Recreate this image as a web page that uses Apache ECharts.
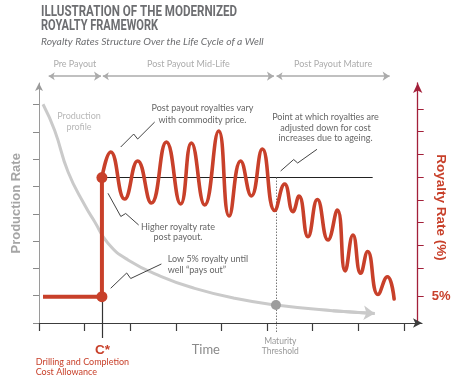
<!DOCTYPE html>
<html><head><meta charset="utf-8">
<script src="https://cdn.jsdelivr.net/npm/echarts@6/dist/echarts.min.js"></script>
<style>html,body{margin:0;padding:0;background:#fff}#c{width:470px;height:381px}</style>
</head><body><div id="c"></div>
<script>
// ---- schematic data (time units, production units, royalty %) ----
const xTicks = [0, 1, 2, 3, 4, 5, 6, 7, 8];
const prodTicks = [0, 1, 2, 3, 4, 5, 6, 7, 8];
const royaltyTicks = [5, 10.4, 14.8, 19.1, 23.4, 27.7, 32.1, 36.4, 40.6];
const royaltyLabels = [5];

const payoutTime = 1.38;      // C*
const maturityTime = 5.197;   // maturity threshold
const lowRoyalty = 5;
const postPayoutRoyalty = 27.66;
const levelLineEnd = 7.318;

const prodTime = [0.088, 0.344, 0.636, 1.002, 1.221, 1.513, 1.952, 2.684, 3.414, 4.292, 5.197, 6.441, 7.362];
const prodRate = [8.01, 7.05, 5.54, 4.32, 3.71, 2.92, 2.31, 1.70, 1.27, 0.905, 0.66, 0.45, 0.35];

const preTime = [0.088, 1.38, 1.38];
const preRoyalty = [5, 5, 27.66];

const waveTime = [1.38, 1.572, 1.879, 2.164, 2.465, 2.794, 3.107, 3.342, 3.634, 3.941, 4.171, 4.423, 4.658, 4.899, 5.169, 5.388, 5.570, 5.702, 5.899, 6.105, 6.338, 6.544, 6.715, 6.886, 7.055, 7.208, 7.434, 7.640, 7.789];
const waveRoyalty = [27.66, 32.51, 23.57, 30.80, 22.81, 34.41, 22.62, 34.22, 22.43, 36.50, 20.34, 30.80, 24.14, 33.08, 21.39, 26.43, 21.16, 24.14, 16.41, 23.48, 15.78, 21.48, 9.89, 16.73, 9.45, 13.59, 5.42, 8.80, 4.56];

const phaseNames = ['Pre Payout', 'Post Payout Mid-Life', 'Post Payout Mature'];
const phaseStart = [0.213, 1.40, 5.21];
const phaseEnd = [1.36, 5.153, 7.69];
const phaseLevel = 9.04;

// annotation arrows (time, royalty %)
const arrowPrice = [[2.537, 38.21], [2.164, 34.98], [2.077, 35.93], [1.792, 33.46]];
const arrowHigher = [[2.186, 18.63], [1.901, 20.82], [1.794, 20.25], [1.513, 24.66]];
const arrowLow = [[2.684, 11.22], [2.011, 8.46], [1.923, 9.51], [1.572, 6.60]];
const arrowAgeing = [[6.096, 33.02], [5.673, 30.42], [5.586, 31.08], [5.30, 28.9]];
const cStarBottom = -2.85;
const maturityBottom = -1.9;

// ---- chart ----
const RED = '#c8402a';
const zip = (a, b) => a.map((v, i) => [v, b[i]]);
const n = prodTime.length;

const chart = echarts.init(document.getElementById('c'), null, {renderer: 'canvas'});
const txt = (o) => ({type: 'text', z: 100, ...o});
const body = 'Lato, "Open Sans", sans-serif';

chart.setOption({
  animation: false,
  backgroundColor: '#fff',
  grid: {left: 39, right: 48, top: 83, bottom: 58, containLabel: false},
  xAxis: {
    type: 'value', min: 0, max: 8.40, interval: 1,
    axisLine: {show: true, onZero: false, symbol: ['none', 'arrow'], symbolSize: [7, 9], lineStyle: {color: '#3c3c3c', width: 1.2}},
    axisTick: {show: true, inside: false, length: 8, customValues: xTicks, lineStyle: {color: '#3c3c3c', width: 1.2}},
    axisLabel: {show: false}, splitLine: {show: false}
  },
  yAxis: [{
    type: 'value', position: 'left', min: 0, max: 8.79, interval: 1,
    axisLine: {show: true, onZero: false, symbol: ['none', 'arrow'], symbolSize: [6, 8], lineStyle: {color: '#9a9a9a', width: 1}},
    axisTick: {show: true, length: 6, customValues: prodTicks, lineStyle: {color: '#8a8a8a', width: 1}},
    axisLabel: {show: false}, splitLine: {show: false}
  }, {
    type: 'value', position: 'right', offset: -4.3, min: 0, max: 45.63,
    axisLine: {show: true, onZero: false, symbol: ['none', 'arrow'], symbolSize: [7, 10], lineStyle: {color: '#a3203a', width: 1.3}},
    axisTick: {show: true, length: 6, customValues: royaltyTicks, lineStyle: {color: '#a3203a', width: 1}},
    axisLabel: {show: true, customValues: royaltyLabels, margin: 14, formatter: '{value}%',
      color: RED, fontSize: 13, fontWeight: 'bold', fontFamily: '"Liberation Sans", Arial, sans-serif'},
    splitLine: {show: false}
  }],
  series: [
    {type: 'line', name: 'Production profile', xAxisIndex: 0, yAxisIndex: 0, data: zip(prodTime, prodRate),
      smooth: true, showSymbol: false, lineStyle: {color: '#cacaca', width: 3}, z: 2},
    {type: 'lines', coordinateSystem: 'cartesian2d', xAxisIndex: 0, yAxisIndex: 0, clip: false,
      symbol: ['none', 'arrow'], symbolSize: [9, 11],
      lineStyle: {color: '#cacaca', width: 3, opacity: 1},
      data: [{coords: [[prodTime[n - 2], prodRate[n - 2]], [prodTime[n - 1], prodRate[n - 1]]]}], z: 2},
    // phase arrows with labels
    {type: 'lines', coordinateSystem: 'cartesian2d', xAxisIndex: 0, yAxisIndex: 0, clip: false,
      symbol: ['arrow', 'arrow'], symbolSize: [6, 7],
      lineStyle: {color: '#ababab', width: 1.5, opacity: 1},
      label: {show: true, position: 'insideMiddleTop', distance: 8, formatter: (p) => p.name,
        color: '#acacac', fontSize: 9, fontFamily: body},
      data: phaseNames.map((nm, i) => ({name: nm, coords: [[phaseStart[i], phaseLevel], [phaseEnd[i], phaseLevel]]})), z: 3},
    // post payout reference level
    {type: 'lines', coordinateSystem: 'cartesian2d', xAxisIndex: 0, yAxisIndex: 1, clip: false,
      lineStyle: {color: '#222', width: 1, opacity: 1},
      data: [{coords: [[payoutTime, postPayoutRoyalty], [levelLineEnd, postPayoutRoyalty]]}], z: 3},
    // thin line below C*
    {type: 'lines', coordinateSystem: 'cartesian2d', xAxisIndex: 0, yAxisIndex: 1, clip: false,
      lineStyle: {color: '#333', width: 1.2, opacity: 1},
      data: [{coords: [[payoutTime, lowRoyalty], [payoutTime, cStarBottom]]}], z: 3},
    // maturity dotted line
    {type: 'lines', coordinateSystem: 'cartesian2d', xAxisIndex: 0, yAxisIndex: 1, clip: false,
      lineStyle: {color: '#777', width: 1, type: [1.5, 1.5], opacity: 1},
      data: [{coords: [[maturityTime, postPayoutRoyalty], [maturityTime, maturityBottom]]}], z: 3},
    // royalty: pre payout step
    {type: 'line', xAxisIndex: 0, yAxisIndex: 1, data: zip(preTime, preRoyalty), showSymbol: false,
      lineStyle: {color: RED, width: 4, cap: 'butt', join: 'miter'}, z: 5},
    // royalty: post payout wave
    {type: 'line', xAxisIndex: 0, yAxisIndex: 1, data: zip(waveTime, waveRoyalty), showSymbol: false,
      smooth: 0.5, lineStyle: {color: RED, width: 3.6, cap: 'round'}, z: 5},
    // dots
    {type: 'scatter', xAxisIndex: 0, yAxisIndex: 1, data: [[payoutTime, lowRoyalty], [payoutTime, postPayoutRoyalty]],
      symbolSize: 11, itemStyle: {color: RED, opacity: 1}, z: 6},
    {type: 'scatter', xAxisIndex: 0, yAxisIndex: 0, data: [[maturityTime, prodRate[prodTime.indexOf(maturityTime)]]],
      symbolSize: 10, itemStyle: {color: '#9d9d9d', opacity: 1}, z: 6},
    // annotation arrows
    {type: 'lines', coordinateSystem: 'cartesian2d', xAxisIndex: 0, yAxisIndex: 1, clip: false, polyline: true,
      symbol: ['none', 'arrow'], symbolSize: [6, 7],
      lineStyle: {color: '#444', width: 1, opacity: 1},
      data: [arrowPrice, arrowHigher, arrowLow, arrowAgeing].map(c => ({coords: c})), z: 7}
  ],
  graphic: [
    txt({x: 41, y: 13, scaleX: 0.84, style: {text: 'ILLUSTRATION OF THE MODERNIZED', font: 'bold 13.8px Roboto', fill: '#6d6e71', align: 'left', verticalAlign: 'middle', textAlign: 'left', textVerticalAlign: 'middle'}}),
    txt({x: 41, y: 27, scaleX: 0.80, style: {text: 'ROYALTY FRAMEWORK', font: 'bold 13.8px Roboto', fill: '#6d6e71', align: 'left', verticalAlign: 'middle', textAlign: 'left', textVerticalAlign: 'middle'}}),
    txt({x: 41, y: 42, style: {text: 'Royalty Rates Structure Over the Life Cycle of a Well', font: 'italic 10.3px Lato', fill: '#6d6e71', align: 'left', verticalAlign: 'middle', textAlign: 'left', textVerticalAlign: 'middle'}}),
    txt({x: 79, y: 122, style: {text: 'Production\nprofile', font: '9px Lato', lineHeight: 11, fill: '#b8b8b8', align: 'center', verticalAlign: 'middle', textAlign: 'center', textVerticalAlign: 'middle'}}),
    txt({x: 202.5, y: 114, style: {text: 'Post payout royalties vary\nwith commodity price.', font: '9px Lato', lineHeight: 11.5, fill: '#666', align: 'center', verticalAlign: 'middle', textAlign: 'center', textVerticalAlign: 'middle'}}),
    txt({x: 325.5, y: 127.7, style: {text: 'Point at which royalties are\nadjusted down for cost\nincreases due to ageing.', font: '9px Lato', lineHeight: 10.8, fill: '#666', align: 'center', verticalAlign: 'middle', textAlign: 'center', textVerticalAlign: 'middle'}}),
    txt({x: 178, y: 232, style: {text: 'Higher royalty rate\npost payout.', font: '9px Lato', lineHeight: 10.6, fill: '#666', align: 'center', verticalAlign: 'middle', textAlign: 'center', textVerticalAlign: 'middle'}}),
    txt({x: 167.7, y: 264.7, style: {text: 'Low 5% royalty until\nwell \u201cpays out\u201d', font: '9px Lato', lineHeight: 10.7, fill: '#666', align: 'left', verticalAlign: 'middle', textAlign: 'left', textVerticalAlign: 'middle'}}),
    txt({x: 16, y: 203.3, rotation: Math.PI / 2, style: {text: 'Production Rate', font: 'bold 13px "Liberation Sans", Arial, sans-serif', fill: '#a5a5a5', align: 'center', verticalAlign: 'middle', textAlign: 'center', textVerticalAlign: 'middle'}}),
    txt({x: 441, y: 207.5, rotation: -Math.PI / 2, style: {text: 'Royalty Rate (%)', font: 'bold 13.5px "Liberation Sans", Arial, sans-serif', fill: RED, align: 'center', verticalAlign: 'middle', textAlign: 'center', textVerticalAlign: 'middle'}}),
    txt({x: 102.5, y: 350, style: {text: 'C*', font: 'bold 13.5px "Liberation Sans", Arial, sans-serif', fill: RED, align: 'center', verticalAlign: 'middle', textAlign: 'center', textVerticalAlign: 'middle'}}),
    txt({x: 205.8, y: 349.7, style: {text: 'Time', font: '13px Lato', fill: '#8a8a8a', align: 'center', verticalAlign: 'middle', textAlign: 'center', textVerticalAlign: 'middle'}}),
    txt({x: 280.3, y: 346.3, style: {text: 'Maturity\nThreshold', font: '8.5px Lato', lineHeight: 9.5, fill: '#999', align: 'center', verticalAlign: 'middle', textAlign: 'center', textVerticalAlign: 'middle'}}),
    txt({x: 35.7, y: 367.2, style: {text: 'Drilling and Completion\nCost Allowance', font: '9px Lato', lineHeight: 9.7, fill: RED, align: 'left', verticalAlign: 'middle', textAlign: 'left', textVerticalAlign: 'middle'}})
  ]
});
</script>
</body></html>
